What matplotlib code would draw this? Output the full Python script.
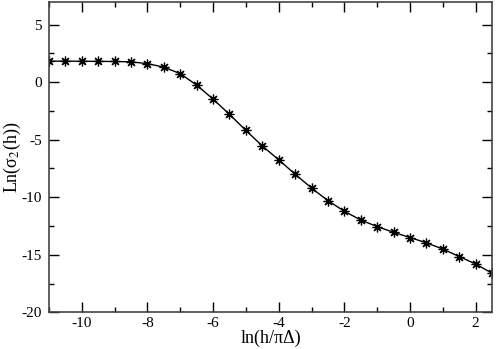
import matplotlib
matplotlib.use('Agg')
import matplotlib.pyplot as plt
from matplotlib.ticker import MultipleLocator

plt.rcParams['font.family'] = ['Liberation Serif', 'DejaVu Serif']
plt.rcParams['mathtext.fontset'] = 'stix'
plt.rcParams['axes.unicode_minus'] = False

# data
x_vals = [-11.0, -10.5, -10.0, -9.5, -9.0, -8.5, -8.0, -7.5, -7.0, -6.5,
          -6.0, -5.5, -5.0, -4.5, -4.0, -3.5, -3.0, -2.5, -2.0, -1.5,
          -1.0, -0.5, 0.0, 0.5, 1.0, 1.5, 2.0, 2.5]
y_vals = [1.82, 1.82, 1.81, 1.80, 1.79, 1.76, 1.60, 1.30, 0.73, -0.26,
          -1.48, -2.80, -4.20, -5.55, -6.75, -8.00, -9.20, -10.30, -11.22, -11.98,
          -12.55, -13.05, -13.50, -13.96, -14.50, -15.15, -15.80, -16.60]

fig = plt.figure(figsize=(4.98, 3.49), dpi=100)
ax = fig.add_axes([0.0984, 0.105, 0.8896, 0.8907])

ax.plot(x_vals, y_vals, color='black', lw=1.0,
        marker=(8, 2, 0), markersize=7, markeredgewidth=0.9,
        markeredgecolor='black', markerfacecolor='black')

ax.set_xlim(-11, 2.5)
ax.set_ylim(-20, 7)
ax.xaxis.set_major_locator(MultipleLocator(2))
ax.xaxis.set_minor_locator(MultipleLocator(1))
ax.yaxis.set_major_locator(MultipleLocator(5))
ax.yaxis.set_minor_locator(MultipleLocator(2.5))

ax.tick_params(which='both', direction='in', top=True, right=True,
               labelsize=11, colors='black')
ax.tick_params(axis='x', pad=3)
ax.tick_params(axis='y', pad=5)
ax.tick_params(which='major', length=7, width=1.0)
ax.tick_params(which='minor', length=3.5, width=1.0)
for s in ax.spines.values():
    s.set_linewidth(1.2)
    s.set_color('#444444')

ax.set_xlabel('ln(h/πΔ)', fontsize=13, labelpad=0)
ax.set_ylabel('Ln(σ$_2$(h))', fontsize=13)
ax.yaxis.set_label_coords(-0.058, 0.5)

fig.savefig('out.png', dpi=100)
